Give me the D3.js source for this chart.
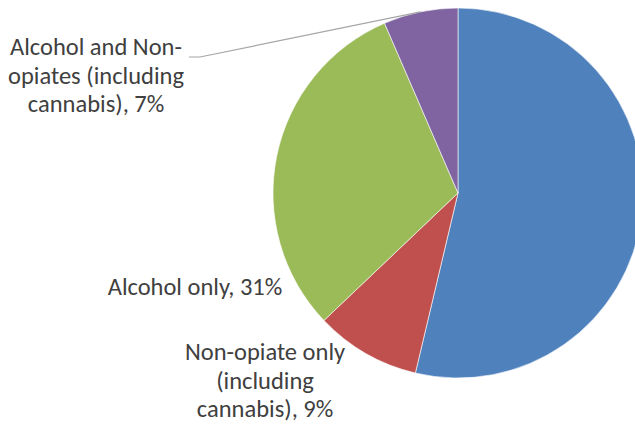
<!DOCTYPE html>
<html>
<head>
<meta charset="utf-8">
<script src="https://cdn.jsdelivr.net/npm/d3@7"></script>
<style>
  body { margin: 0; background: #fff; }
  svg { display: block; }
  .lbl { font-family: Calibri, Carlito, "Open Sans", sans-serif; font-size: 24.5px; fill: #404040; }
</style>
</head>
<body>
<div id="chart"></div>
<script>
// slices clockwise from 12 o'clock
var categories = ["Opiate", "Non-opiate only (including cannabis)", "Alcohol only", "Alcohol and Non-opiates (including cannabis)"];
var values = [53.7, 9.2, 30.6, 6.5];
var colors = ["#4F81BD", "#C0504D", "#9BBB59", "#8064A2"];
var labelLines = [
    [],
    ["Non-opiate only", "(including", "cannabis), 9%"],
    ["Alcohol only, 31%"],
    ["Alcohol and Non-", "opiates (including", "cannabis), 7%"]
];

var width = 635, height = 425;
var cx = 458, cy = 193, radius = 185;

// label anchors (centre of first line)
var labelPos = [null, [265, 360], [195, 295], [96, 55]];

var svg = d3.select("#chart")
    .append("svg")
    .attr("width", width)
    .attr("height", height);

var pie = d3.pie().sort(null).value(function(d) { return d; });
var arc = d3.arc().innerRadius(0).outerRadius(radius);
var arcs = pie(values);

var g = svg.append("g")
    .attr("transform", "translate(" + cx + "," + cy + ")");

g.selectAll("path")
    .data(arcs)
    .enter()
    .append("path")
    .attr("d", arc)
    .attr("fill", function(d, i) { return colors[i]; })
    .attr("stroke", "#fff")
    .attr("stroke-width", 0.6);

// leader line for the small purple slice
var a = arcs[3];
var mid = (a.startAngle + a.endAngle) / 2;
var ex = cx + radius * Math.sin(mid), ey = cy - radius * Math.cos(mid);
svg.append("polyline")
    .attr("points", [[ex, ey], [200, 57], [189, 57]].map(function(p) { return p.join(","); }).join(" "))
    .attr("fill", "none")
    .attr("stroke", "#A6A6A6")
    .attr("stroke-width", 1.2);

labelLines.forEach(function(lines, i) {
    if (!lines.length) return;
    var p = labelPos[i];
    var t = svg.append("text")
        .attr("class", "lbl")
        .attr("text-anchor", "middle")
        .attr("x", p[0])
        .attr("y", p[1]);
    lines.forEach(function(s, j) {
        t.append("tspan")
            .attr("x", p[0])
            .attr("dy", j === 0 ? 0 : 28.5)
            .text(s);
    });
});
</script>
</body>
</html>
